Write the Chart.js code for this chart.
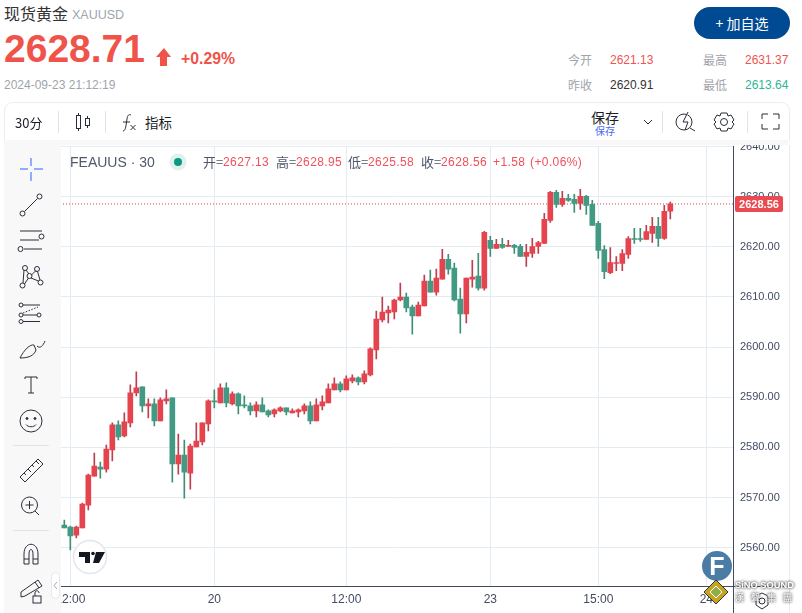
<!DOCTYPE html>
<html>
<head>
<meta charset="utf-8">
<title>现货黄金 XAUUSD</title>
<script src="https://cdn.jsdelivr.net/npm/chart.js@4"></script>
<style>
html, body { margin: 0; padding: 0; background: #fff; width: 802px; height: 613px; overflow: hidden; }
body { font-family: "Liberation Sans", "Noto Sans CJK SC", sans-serif; }
#cv { position: absolute; left: 0; top: 0; }
.abs { position: absolute; white-space: nowrap; line-height: 1; }
.red { color: #ef5350; }
.gray { color: #a0a4ac; }
.leg { font-size: 12px; letter-spacing: .4px; color: #f0505c; top: 156px; }
.legk { font-size: 13px; color: #4f566b; top: 155px; font-family: "Noto Sans CJK SC", sans-serif; }
.cover { position: absolute; }
#overlay { position: absolute; left: 0; top: 0; }
</style>
</head>
<body>
<canvas id="cv" width="802" height="613"></canvas>

<!-- 차트 위쪽, 왼쪽 가림 -->
<div class="cover" style="left:0;top:0;width:802px;height:144px;background:#fff"></div>
<div class="cover" style="left:4px;top:102px;width:784px;height:38px;border:1px solid #ececef;border-bottom:0;border-radius:9px 9px 0 0"></div>
<div class="cover" style="left:5px;top:140px;width:783px;height:5px;background:#f8f8f9"></div>
<div class="cover" style="left:0;top:140px;width:4px;height:473px;background:#fff"></div>
<div class="cover" style="left:4px;top:140px;width:57px;height:473px;background:#f8f8f9"></div>
<div class="cover" style="left:733px;top:586px;width:1px;height:27px;background:#434b63"></div>
<div class="cover" style="left:734px;top:586px;width:55px;height:1px;background:#434b63"></div>
<div class="cover" style="left:789px;top:145px;width:1px;height:468px;background:#ececef"></div>

<div class="abs" style="left:4px;top:5px;font-size:16px;color:#333;font-family:'Noto Sans CJK SC'">现货黄金</div>
<div class="abs gray" style="left:72px;top:9px;font-size:12.5px">XAUUSD</div>
<div class="abs" style="left:4px;top:29px;font-size:39px;font-weight:bold;color:#ef5349">2628.71</div>
<div class="abs" style="left:181px;top:51px;font-size:15.8px;font-weight:bold;color:#ef5349">+0.29%</div>
<div class="abs gray" style="left:4px;top:79px;font-size:12px">2024-09-23 21:12:19</div>

<div class="abs" style="left:694px;top:7px;width:96px;height:32px;border-radius:16px;background:#004a94;color:#fff;font-size:14px;line-height:32px;text-align:center;font-family:'Noto Sans CJK SC'">+ 加自选</div>

<div class="abs gray" style="left:568px;top:54px;font-size:12px;font-family:'Noto Sans CJK SC'">今开</div>
<div class="abs red" style="left:610px;top:54px;font-size:12px">2621.13</div>
<div class="abs gray" style="left:703px;top:54px;font-size:12px;font-family:'Noto Sans CJK SC'">最高</div>
<div class="abs red" style="left:745px;top:54px;font-size:12px">2631.37</div>
<div class="abs gray" style="left:568px;top:79px;font-size:12px;font-family:'Noto Sans CJK SC'">昨收</div>
<div class="abs" style="left:610px;top:79px;font-size:12px;color:#333">2620.91</div>
<div class="abs gray" style="left:703px;top:79px;font-size:12px;font-family:'Noto Sans CJK SC'">最低</div>
<div class="abs" style="left:745px;top:79px;font-size:12px;color:#2fb594">2613.64</div>

<div class="abs" style="left:15px;top:116px;font-size:13px;color:#1a1d26;font-family:'Noto Sans CJK SC'">30分</div>
<div class="abs" style="left:145px;top:116px;font-size:13.5px;color:#1a1d26;font-family:'Noto Sans CJK SC'">指标</div>
<div class="abs" style="left:591px;top:110px;font-size:14px;color:#1a1d26;font-family:'Noto Sans CJK SC'">保存</div>
<div class="abs" style="left:595px;top:126px;font-size:10px;color:#4a6cf7;font-family:'Noto Sans CJK SC'">保存</div>

<div class="abs" style="left:70px;top:155px;font-size:14px;color:#50586b">FEAUUS · 30</div>
<div class="abs legk" style="left:203px">开=</div><div class="abs leg" style="left:223px">2627.13</div>
<div class="abs legk" style="left:276px">高=</div><div class="abs leg" style="left:296px">2628.95</div>
<div class="abs legk" style="left:348px">低=</div><div class="abs leg" style="left:368px">2625.58</div>
<div class="abs legk" style="left:421px">收=</div><div class="abs leg" style="left:441px">2628.56</div>
<div class="abs leg" style="left:493px">+1.58</div>
<div class="abs leg" style="left:530px">(+0.06%)</div>

<svg id="overlay" width="802" height="613" viewBox="0 0 802 613" fill="none" stroke="#2a2e39" stroke-width="1">
	<!-- 상승 화살표 -->
	<path d="M164 48 L171 57 L167 57 L167 66 L160 66 L160 57 L156 57 Z" fill="#ef5349" stroke="none"/>
	<!-- 상단 도구 -->
	<line x1="58.5" y1="111" x2="58.5" y2="133" stroke="#e0e3eb"/>
	<line x1="105.5" y1="111" x2="105.5" y2="133" stroke="#e0e3eb"/>
	<line x1="662.5" y1="111" x2="662.5" y2="133" stroke="#e0e3eb"/>
	<line x1="747.5" y1="111" x2="747.5" y2="133" stroke="#e0e3eb"/>
	<path d="M78.500 113 V131 M87.500 116 V128"/>
	<rect x="76.500" y="115.500" width="4" height="13" fill="#fff"/>
	<rect x="85.500" y="118.500" width="4" height="7" fill="#fff"/>
	<path d="M123 131 C126 131 126 124 127 119 C127.500 115 129 114 131 115 M123 122 H130" />
	<path d="M130.500 125 L135.500 130 M135.500 125 L130.500 130"/>
	<path d="M644 120 L648 124 L652 120"/>
	<circle cx="684" cy="122" r="8"/>
	<path d="M690 128 L695 131"/>
	<path d="M688 112 L683 122 L688 122 L685 130" fill="#fff"/>
	<circle cx="724" cy="122" r="3.500"/>
	<path d="M721 113 H727 L728 116 L731 115 L734 120 L732 122 L734 124 L731 129 L728 128 L727 131 H721 L720 128 L717 129 L714 124 L716 122 L714 120 L717 115 L720 116 Z"/>
	<path d="M762 119 V114 H768 M773 114 H779 V119 M779 124 V129 H773 M768 129 H762 V124"/>

	<!-- 왼쪽 도구 -->
	<path d="M20 169 H28 M34 169 H43 M31 158 V166 M31 172 V181" stroke="#2962ff"/>
	<circle cx="22.500" cy="213.500" r="2.500"/><circle cx="39.500" cy="196.500" r="2.500"/><path d="M24.500 211.500 L37.500 198.500"/>
	<path d="M20 231 H42 M20 240 H39 M24 249 H42"/><circle cx="41.500" cy="237.500" r="2.500" transform="translate(0,-1)"/><circle cx="20.500" cy="249" r="2.500"/>
	<circle cx="25" cy="268" r="2.500"/><circle cx="37" cy="269" r="2.500"/><circle cx="29.500" cy="276" r="2.500"/><circle cx="22.500" cy="285.500" r="2.500"/><circle cx="40.500" cy="282.500" r="2.500"/>
	<path d="M24 270 L23 283 M26 270 L29 274 M31.500 275 L36 270.500 M31 278 L38.500 281 M24.500 284 L28.500 278 M37.500 271.500 L40 280"/>
	<circle cx="21" cy="305" r="2"/><circle cx="21" cy="315" r="2"/><circle cx="39" cy="315" r="2"/><circle cx="21" cy="321.500" r="2"/>
	<path d="M23 305 H40 M23 315 H37 M23 321.500 H40"/><path d="M23 313 L38 307" stroke-dasharray="1.500 1.500"/>
	<path d="M20 358 C24 350 30 344 34 345 L36 350 C34 356 28 358 20 358 Z"/><path d="M37 346 C40 349 43 346 45 341"/>
	<path d="M25 377 H37 M31 377 V393 M28 393 H34 M25 377 V379 M37 377 V379"/>
	<circle cx="31" cy="421" r="11"/><circle cx="27" cy="418.500" r="1" fill="#2a2e39"/><circle cx="35" cy="418.500" r="1" fill="#2a2e39"/><path d="M26 424.500 C28 427.500 34 427.500 36 424.500"/>
	<line x1="13" y1="445.500" x2="49" y2="445.500" stroke="#e0e3eb"/>
	<path d="M20 477 L38 459 L43 464 L25 482 Z M24 473 L26 475 M28 469 L31 472 M32 465 L34 467 M36 461 L39 464"/>
	<circle cx="29.500" cy="505" r="8"/><path d="M35 511 L39 515 M29.500 501 V509 M25.500 505 H33.500"/>
	<line x1="13" y1="530.500" x2="49" y2="530.500" stroke="#e0e3eb"/>
	<path d="M24 564 V554 C24 541 38 541 38 554 V564 H33 V554 C33 548 29 548 29 554 V564 Z M24 559 H29 M33 559 H38"/>
	<path d="M21 592 L38 580 L42 586 L25 596 L21 597 Z M35 582 L39 588"/>
	<rect x="33" y="596" width="8" height="7" fill="#f8f8f9"/><path d="M35 596 V593 C35 590 39 590 39 593"/>
	<rect x="51.500" y="572.500" width="8" height="26" rx="4" fill="#fff" stroke="#e6e7eb"/>
	<path d="M57 582 L54 585.500 L57 589" stroke="#a0a4ac"/>

	<!-- 범례 점 -->
	<circle cx="178" cy="162" r="8.500" fill="#dff0ed" stroke="none"/>
	<circle cx="178" cy="162" r="4" fill="#089981" stroke="none"/>

	<!-- TV 로고 -->
	<circle cx="90" cy="557" r="16.500" fill="#fff" stroke="#e3e5ec" stroke-width="1.500"/>
	<path d="M79 552 H90 V563 H85 V557 H79 Z M96 552 H105 L99 563 H93 Z" fill="#131722" stroke="none"/>
	<circle cx="93" cy="553.500" r="1.800" fill="#131722" stroke="none"/>

	<!-- F 로고, 워터마크 -->
	<circle cx="717" cy="566" r="15" fill="#4a7ca5" stroke="none"/>
	<text x="717" y="575" font-family="Liberation Sans" font-size="25" font-weight="bold" fill="#fff" stroke="none" text-anchor="middle">F</text>
	<path d="M716 580 L728 592 L716 604 L704 592 Z" fill="#c8a320" stroke="#333"/>
	<path d="M716 586 L722 592 L716 598 L710 592 Z" fill="#8fae4a" stroke="#fff"/>
	<circle cx="762" cy="601" r="3" stroke="#2a2e39"/>
	<path d="M756 596 L762 593 L768 596 V605 L762 609 L756 605 Z"/>
</svg>

<div class="abs" style="left:735px;top:581px;font-size:9.3px;font-weight:bold;color:#fff;text-shadow:0 0 3px #555,0 0 3px #555">SiNO SOUND</div>
<div class="abs" style="left:735px;top:593px;font-size:9px;letter-spacing:7px;color:#fff;text-shadow:0 0 3px #555,0 0 3px #555;font-family:'Noto Sans CJK TC'">漢聲集團</div>

<script>
// 30분봉 시세
var opens = [
	2564.47, 2564.07, 2562.47, 2563.94, 2568.47, 2574.27, 2576.07, 2575.67, 2579.47, 2584.47,
	2582.27, 2584.87, 2590.87, 2592.07, 2588.27, 2588.67, 2585.27, 2589.27, 2589.87, 2576.67,
	2578.47, 2574.87, 2580.07, 2581.07, 2584.67, 2589.27, 2588.87, 2591.87, 2588.67, 2590.67,
	2588.47, 2588.27, 2587.27, 2588.47, 2587.27, 2586.67, 2587.27, 2587.87, 2586.87, 2587.07,
	2587.27, 2588.27, 2585.27, 2588.27, 2588.87, 2591.47, 2592.67, 2591.47, 2593.27, 2593.87,
	2593.07, 2594.47, 2599.44, 2605.40, 2606.80, 2607.00, 2609.40, 2610.00, 2608.00, 2606.20,
	2608.20, 2613.15, 2610.95, 2613.55, 2617.50, 2615.75, 2609.60, 2606.60, 2613.55, 2614.15,
	2611.75, 2621.30, 2619.70, 2620.50, 2620.10, 2620.30, 2620.10, 2618.10, 2618.67, 2620.07,
	2620.67, 2625.27, 2630.87, 2628.47, 2629.67, 2629.47, 2628.67, 2630.07, 2628.47, 2624.67,
	2619.47, 2614.87, 2616.67, 2616.67, 2618.47, 2621.67, 2621.67, 2621.47, 2622.67, 2624.07,
	2621.67, 2627.13
];
var highs = [
	2565.47, 2564.30, 2564.27, 2568.87, 2574.67, 2578.87, 2577.07, 2580.47, 2584.87, 2585.27,
	2586.87, 2592.47, 2595.07, 2592.07, 2589.67, 2589.67, 2589.87, 2591.47, 2589.87, 2582.67,
	2581.47, 2580.67, 2584.87, 2584.87, 2589.47, 2591.47, 2592.67, 2592.87, 2591.07, 2590.87,
	2590.27, 2588.87, 2589.07, 2589.87, 2587.47, 2587.67, 2588.07, 2587.87, 2587.67, 2587.67,
	2588.67, 2589.07, 2589.67, 2590.27, 2592.67, 2593.87, 2593.07, 2594.27, 2594.47, 2594.07,
	2595.27, 2599.87, 2607.20, 2610.00, 2608.20, 2609.60, 2612.75, 2610.80, 2608.40, 2609.00,
	2614.35, 2615.35, 2615.55, 2619.50, 2618.50, 2616.75, 2611.75, 2613.75, 2617.30, 2618.70,
	2623.10, 2622.10, 2621.50, 2621.70, 2621.30, 2620.50, 2620.50, 2620.50, 2621.70, 2621.10,
	2626.67, 2631.07, 2631.27, 2631.07, 2630.47, 2630.47, 2631.47, 2630.27, 2629.27, 2625.07,
	2620.27, 2619.87, 2618.07, 2619.47, 2622.07, 2623.67, 2623.67, 2624.27, 2625.87, 2625.87,
	2628.27, 2628.95
];
var lows = [
	2563.94, 2559.54, 2561.94, 2563.94, 2567.54, 2574.27, 2573.87, 2575.07, 2577.27, 2581.47,
	2582.07, 2584.07, 2590.27, 2587.07, 2585.87, 2584.27, 2585.27, 2588.67, 2573.07, 2574.67,
	2569.87, 2571.67, 2580.07, 2580.47, 2583.27, 2587.87, 2588.87, 2588.07, 2588.47, 2586.67,
	2587.87, 2586.47, 2586.07, 2587.07, 2586.07, 2586.07, 2587.07, 2586.47, 2586.87, 2586.07,
	2586.67, 2584.67, 2585.27, 2587.47, 2588.87, 2591.47, 2591.07, 2591.47, 2592.87, 2592.47,
	2592.67, 2594.27, 2597.66, 2605.00, 2604.80, 2605.60, 2609.20, 2607.00, 2602.60, 2606.20,
	2608.20, 2610.95, 2610.35, 2613.55, 2614.55, 2609.20, 2602.80, 2604.80, 2611.95, 2611.35,
	2611.35, 2618.10, 2619.70, 2619.70, 2620.10, 2618.70, 2618.10, 2616.10, 2617.90, 2618.70,
	2620.67, 2624.87, 2627.87, 2628.07, 2629.07, 2626.87, 2627.47, 2626.47, 2624.27, 2617.67,
	2613.67, 2614.67, 2615.27, 2615.27, 2617.67, 2620.67, 2621.07, 2621.47, 2620.87, 2620.07,
	2621.47, 2625.58
];
var closes = [
	2563.94, 2562.34, 2564.07, 2568.67, 2574.47, 2576.27, 2575.67, 2579.67, 2584.47, 2582.07,
	2585.07, 2590.87, 2591.87, 2588.27, 2588.67, 2585.27, 2589.47, 2589.67, 2576.67, 2578.47,
	2575.07, 2580.27, 2581.27, 2584.87, 2589.27, 2589.07, 2591.87, 2588.87, 2590.67, 2588.27,
	2588.27, 2587.27, 2588.47, 2587.07, 2586.47, 2587.47, 2587.87, 2587.07, 2587.27, 2587.47,
	2588.27, 2585.27, 2588.47, 2589.07, 2591.67, 2592.67, 2591.47, 2593.67, 2593.87, 2593.07,
	2594.67, 2599.67, 2605.60, 2607.00, 2607.40, 2609.40, 2610.00, 2607.80, 2606.20, 2608.40,
	2613.15, 2610.95, 2613.75, 2617.50, 2615.55, 2609.40, 2606.60, 2613.75, 2613.95, 2611.75,
	2622.90, 2619.70, 2620.50, 2619.90, 2620.30, 2619.90, 2618.10, 2618.90, 2620.07, 2620.87,
	2625.47, 2630.87, 2628.47, 2629.67, 2629.27, 2628.67, 2630.07, 2628.27, 2624.27, 2619.27,
	2615.07, 2616.87, 2616.87, 2618.67, 2621.67, 2621.47, 2621.47, 2623.07, 2624.07, 2621.67,
	2627.07, 2628.56
];

var timeTickPos = [1, 25, 47, 71, 89, 107];
var timeTickLabels = ['12:00', '20', '12:00', '23', '15:00', '24'];
var priceTicks = [2560, 2570, 2580, 2590, 2600, 2610, 2620, 2630, 2640];

var upColor = '#e5444e';
var downColor = '#429a85';
var upWick = '#bb3f4e';
var downWick = '#3f9070';
var gridColor = '#e4ecf3';
var axisColor = '#434b63';

var xMin = -0.72;
var xMax = 111.45;
var yMin = 2552.34;
var yMax = 2640;

var last = closes.length - 1;
var bodyData = [], wickData = [], bodyColors = [], wickColors = [];
for (var i = 0; i < closes.length; i++) {
	var up = closes[i] >= opens[i];
	bodyData.push({ x: i, y: [opens[i], closes[i]] });
	wickData.push({ x: i, y: [lows[i], highs[i]] });
	bodyColors.push(up ? upColor : downColor);
	wickColors.push(up ? upWick : downWick);
}

// 오른쪽 현재가 라벨
var priceLabel = {
	id: 'priceLabel',
	afterDraw: function(chart) {
		var ctx = chart.ctx;
		var y = Math.round(chart.scales.y.getPixelForValue(closes[last]));
		ctx.save();
		ctx.fillStyle = '#ea4a52';
		ctx.beginPath();
		ctx.roundRect(735, y - 8, 48, 16, 2);
		ctx.fill();
		ctx.fillStyle = '#fff';
		ctx.font = 'bold 11px "Liberation Sans"';
		ctx.textAlign = 'center';
		ctx.textBaseline = 'middle';
		ctx.fillText(closes[last].toFixed(2), 759, y + 0.5);
		ctx.restore();
	}
};

var myChart = new Chart(document.getElementById('cv'), {
	type: 'bar',
	data: {
		datasets: [{
			type: 'line',
			data: [{ x: xMin, y: closes[last] }, { x: xMax, y: closes[last] }],
			borderColor: '#c8404e',
			borderWidth: 1,
			borderDash: [1, 2],
			pointRadius: 0,
			order: 3
		}, {
			data: wickData,
			backgroundColor: wickColors,
			barThickness: 1,
			grouped: false,
			order: 2
		}, {
			data: bodyData,
			backgroundColor: bodyColors,
			barThickness: 5,
			grouped: false,
			order: 1
		}]
	},
	options: {
		responsive: false,
		animation: false,
		layout: { padding: { left: 60, top: 146.6, right: 12, bottom: 0 } },
		plugins: { legend: { display: false }, tooltip: { enabled: false } },
		scales: {
			x: {
				type: 'linear',
				offset: false,
				min: xMin,
				max: xMax,
				afterBuildTicks: function(scale) {
					scale.ticks = timeTickPos.map(function(v) { return { value: v }; });
				},
				afterFit: function(scale) { scale.height = 27; },
				grid: { color: gridColor, drawTicks: false, offset: false },
				border: { color: axisColor },
				ticks: {
					autoSkip: false,
					maxRotation: 0,
					padding: 6,
					color: axisColor,
					font: { family: 'Liberation Sans', size: 12 },
					callback: function(value, index) { return timeTickLabels[index]; }
				}
			},
			y: {
				position: 'right',
				min: yMin,
				max: yMax,
				afterBuildTicks: function(scale) {
					scale.ticks = priceTicks.map(function(v) { return { value: v }; });
				},
				afterFit: function(scale) { scale.width = 57; },
				grid: { color: gridColor, drawTicks: false },
				border: { color: axisColor },
				ticks: {
					padding: 7,
					color: axisColor,
					font: { family: 'Liberation Sans', size: 11 },
					callback: function(value) { return value.toFixed(2); }
				}
			}
		}
	},
	plugins: [priceLabel]
});
</script>
</body>
</html>
